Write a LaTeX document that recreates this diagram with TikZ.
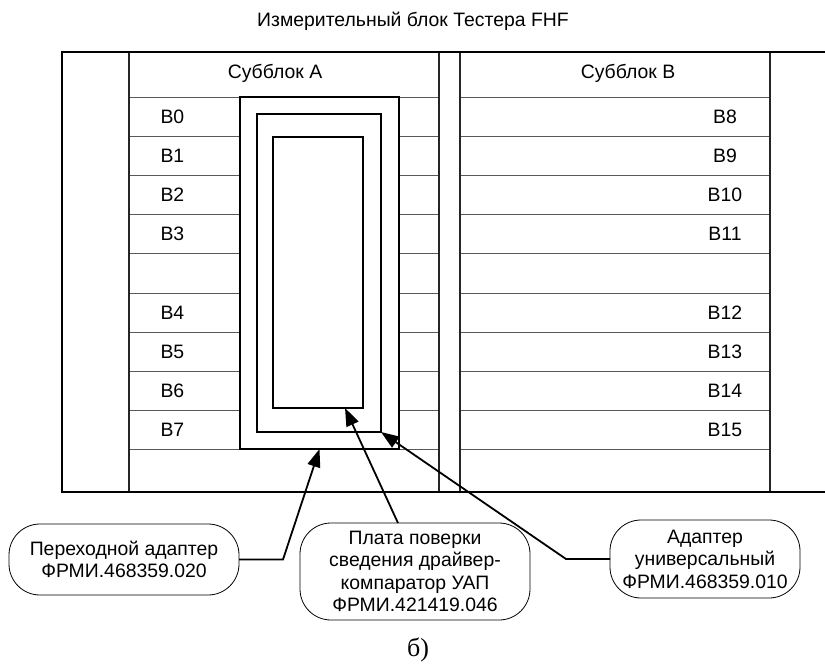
\documentclass[tikz,border=0pt]{standalone}
\usepackage{fontspec}
\setmainfont{Liberation Sans}
\newfontfamily\captionserif{Liberation Serif}
\usetikzlibrary{arrows.meta,positioning}

\tikzset{
  gridline/.style={line width=1pt, black!65},
  colline/.style={line width=1.2pt, black!85},
  frameline/.style={line width=2.2pt},
  adapter/.style={draw, line width=1.8pt, fill=white, inner sep=0pt, outer sep=0pt},
  callout/.style={draw, line width=0.8pt, rounded corners=31pt, align=center, inner sep=0pt, outer sep=0pt},
  pointer/.style={line width=1.8pt, -{Triangle[length=18pt,width=13pt]}},
}

\begin{document}
\begin{tikzpicture}[x=1pt, y=-1pt, every node/.style={font=\fontsize{19.4}{22.5}\selectfont}]
    \useasboundingbox (0,0) rectangle (825,670);
    \node (title) at (413,21) {Измерительный блок Тестера FHF};

    % Rows and columns of the block
    \foreach \k in {0,...,9} {
        \draw[gridline] (129,{97+39.2*\k}) -- (439,{97+39.2*\k});
        \draw[gridline] (460,{97+39.2*\k}) -- (770,{97+39.2*\k});
    }
    \foreach \x in {129,439,460,770}
        \draw[colline] (\x,52) -- (\x,492);
    \draw[frameline] (825,52) -- (62,52) -- (62,492) -- (825,492);

    % Subblock A
    \node (suba) at (275,73) {Субблок А};
    \node[anchor=west] (a0) at (157,116.6) {B0};
    \node[anchor=west] (a1) at (157,155.8) {B1};
    \node[anchor=west] (a2) at (157,195.0) {B2};
    \node[anchor=west] (a3) at (157,234.2) {B3};
    \node[anchor=west] (a4) at (157,312.6) {B4};
    \node[anchor=west] (a5) at (157,351.8) {B5};
    \node[anchor=west] (a6) at (157,391.0) {B6};
    \node[anchor=west] (a7) at (157,430.2) {B7};

    % Subblock B
    \node (subb) at (628,73) {Субблок В};
    \node (b8) at (725,116.6) {B8};
    \node (b9) at (725,155.8) {B9};
    \node (b10) at (725,195.0) {B10};
    \node (b11) at (725,234.2) {B11};
    \node (b12) at (725,312.6) {B12};
    \node (b13) at (725,351.8) {B13};
    \node (b14) at (725,391.0) {B14};
    \node (b15) at (725,430.2) {B15};

    % Adapters and board
    \node[adapter, minimum width=159, minimum height=352] (transrect) at (319.5,273) {};
    \node[adapter, minimum width=124, minimum height=318] (univrect) at (319,273) {};
    \node[adapter, minimum width=90, minimum height=271] (boardrect) at (318,272.5) {};

    % Callouts
    \node[callout, minimum width=230, minimum height=71] (trans) at (124,559.5) {Переходной адаптер\\ФРМИ.468359.020};
    \node[callout, minimum width=230, minimum height=97] (board) at (415,571.5) {Плата поверки\\сведения драйвер-\\компаратор УАП\\ФРМИ.421419.046};
    \node[callout, minimum width=190, minimum height=78] (univ) at (705,559) {Адаптер\\универсальный\\ФРМИ.468359.010};
    \draw[pointer] (trans.east) -- ++(44,0) -- (transrect.south);
    \draw[pointer] ([xshift=-17pt]board.north) -- ([xshift=27pt]boardrect.south);
    \draw[pointer] (univ.west) -- ++(-44,0) -- (univrect.south east);

    \node[font=\captionserif\fontsize{26}{30}\selectfont] (caption) at (418,650) {б)};
\end{tikzpicture}
\end{document}
